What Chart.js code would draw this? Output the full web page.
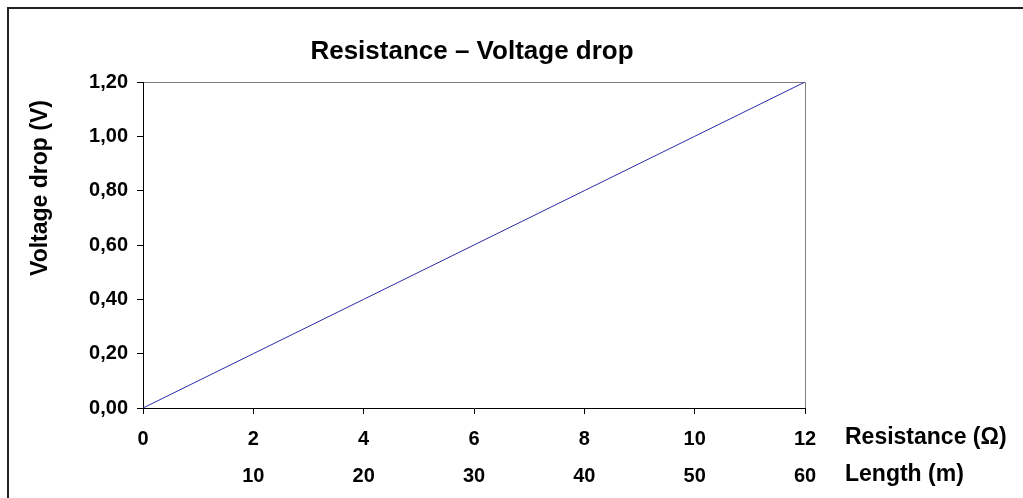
<!DOCTYPE html>
<html>
<head>
<meta charset="utf-8">
<script src="https://cdn.jsdelivr.net/npm/chart.js@4.4.1/dist/chart.umd.min.js"></script>
<style>
  html, body { margin: 0; padding: 0; background: #fff; }
  canvas { display: block; }
</style>
</head>
<body>
<canvas id="chart" width="1023" height="498"></canvas>
<script>
// resistance in ohm, voltage drop in volt
const resistance = [0, 2, 4, 6, 8, 10, 12];
const voltage_drop = [0, 0.2, 0.4, 0.6, 0.8, 1.0, 1.2];
// wire length (m) shown on a second row under the resistance ticks
const length_ticks = [10, 20, 30, 40, 50, 60];

const chart_title = 'Resistance \u2013 Voltage drop';
const y_title = 'Voltage drop (V)';
const x_title = 'Resistance (\u03A9)';
const x2_title = 'Length (m)';

const FONT = "'Liberation Sans', Arial, sans-serif";

function comma_decimal(value) {
  return Number(value).toFixed(2).replace('.', ',');
}

// frame, plot box and all free text
const decorations = {
  id: 'decorations',
  beforeDraw: (chart) => {
    const ctx = chart.ctx;
    const { left, right, top, bottom } = chart.chartArea;
    ctx.save();
    ctx.fillStyle = '#222';
    ctx.fillRect(7, 7, chart.width, 2);
    ctx.fillRect(7, 7, 2, chart.height);
    ctx.strokeStyle = '#808080';
    ctx.lineWidth = 1;
    ctx.beginPath();
    ctx.moveTo(left, top + 0.5);
    ctx.lineTo(right + 0.5, top + 0.5);
    ctx.lineTo(right + 0.5, bottom);
    ctx.stroke();
    ctx.restore();
  },
  afterDraw: (chart) => {
    const ctx = chart.ctx;
    const { left, right } = chart.chartArea;
    ctx.save();
    ctx.fillStyle = '#000';
    ctx.textBaseline = 'middle';

    ctx.font = 'bold 26px ' + FONT;
    ctx.textAlign = 'center';
    ctx.fillText(chart_title, (left + right) / 2 - 2, 52);

    ctx.font = 'bold 23px ' + FONT;
    ctx.textAlign = 'left';
    ctx.fillText(x_title, 845, 438);
    ctx.fillText(x2_title, 845, 475);

    ctx.font = 'bold 23px ' + FONT;
    ctx.translate(41, 188);
    ctx.rotate(-Math.PI / 2);
    ctx.textAlign = 'center';
    ctx.fillText(y_title, 0, 0);
    ctx.restore();
  }
};

const tick_font = { family: FONT, size: 20, weight: 'bold' };

const config = {
  type: 'scatter',
  data: {
    datasets: [{
      data: resistance.map((r, i) => ({ x: r, y: voltage_drop[i] })),
      showLine: true,
      borderColor: '#2b2ba8',
      borderWidth: 1,
      pointRadius: 0,
      pointHoverRadius: 0,
      fill: false
    }]
  },
  options: {
    responsive: false,
    animation: false,
    events: [],
    layout: { padding: { left: 0, right: 218, top: 82, bottom: 0 } },
    plugins: {
      legend: { display: false },
      title: { display: false },
      tooltip: { enabled: false }
    },
    scales: {
      x: {
        type: 'linear',
        position: 'bottom',
        min: 0,
        max: 12,
        ticks: { stepSize: 2, color: '#000', font: tick_font, padding: 13, maxRotation: 0 },
        grid: { drawOnChartArea: false, drawTicks: true, tickLength: 6, color: '#000' },
        border: { display: true, color: '#000', width: 1 },
        afterFit: (scale) => { scale.height = 45; }
      },
      x2: {
        type: 'linear',
        position: 'bottom',
        min: 0,
        max: 60,
        afterBuildTicks: (scale) => { scale.ticks = length_ticks.map(v => ({ value: v })); },
        ticks: { color: '#000', font: tick_font, padding: 11, maxRotation: 0, autoSkip: false },
        grid: { display: false, drawTicks: false },
        border: { display: false },
        afterFit: (scale) => { scale.height = 45; }
      },
      y: {
        type: 'linear',
        min: 0,
        max: 1.2,
        ticks: { stepSize: 0.2, color: '#000', font: tick_font, padding: 9, callback: comma_decimal },
        grid: { drawOnChartArea: false, drawTicks: true, tickLength: 6, color: '#000' },
        border: { display: true, color: '#000', width: 1 },
        afterFit: (scale) => { scale.width = 143; }
      }
    }
  },
  plugins: [decorations]
};

new Chart(document.getElementById('chart'), config);
</script>
</body>
</html>
